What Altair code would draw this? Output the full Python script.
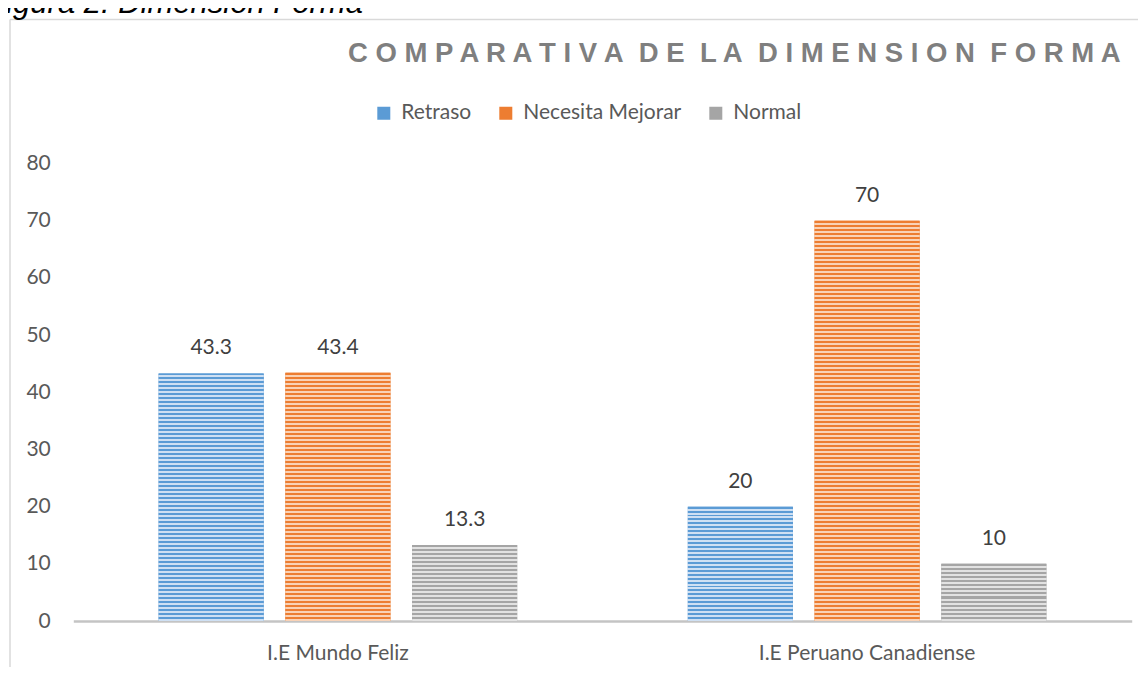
import altair as alt
import pandas as pd

# ---- data ----
categorias = ["I.E Mundo Feliz", "I.E Peruano Canadiense"]
series = ["Retraso", "Necesita Mejorar", "Normal"]
retraso = [43.3, 20]
necesita_mejorar = [43.4, 70]
normal = [13.3, 10]
y_ticks = [0, 10, 20, 30, 40, 50, 60, 70, 80]
titulo = "COMPARATIVA DE LA DIMENSION FORMA"
leyenda_figura = "Figura 2: Dimensión Forma"

# ---- styles ----
dark = {"Retraso": "#5B9BD5", "Necesita Mejorar": "#ED7D31", "Normal": "#A5A5A5"}
light = {"Retraso": "#CFE0F3", "Necesita Mejorar": "#F9D2B6", "Normal": "#E2E2E2"}
PLOT_W = 1058.4
PLOT_H = 457.5
Y_MAX = 80
STRIPE = 4.0

rows = []
for i, c in enumerate(categorias):
    for s, vals in zip(series, [retraso, necesita_mejorar, normal]):
        rows.append({"categoria": c, "serie": s, "valor": vals[i]})
df = pd.DataFrame(rows)

x_enc = alt.X("categoria:N", sort=categorias,
              scale=alt.Scale(paddingInner=0.3224, paddingOuter=0.1612),
              axis=alt.Axis(title=None, labelAngle=0, ticks=False, tickSize=0,
                            domainColor="#C4C4C4", domainWidth=2.5,
                            labelFont="Lato", labelFontSize=21, labelColor="#595959",
                            labelPadding=32, labelBaseline="middle", labelLimit=0))
xo_enc = alt.XOffset("serie:N", sort=series,
                     scale=alt.Scale(paddingInner=0.171, paddingOuter=0))
y_enc = alt.Y("valor:Q",
              scale=alt.Scale(domain=[0, Y_MAX], nice=False),
              axis=alt.Axis(title=None, values=y_ticks, domain=False, ticks=False,
                            tickSize=0, grid=False, labelFont="Lato", labelFontSize=21,
                            labelColor="#595959", labelPadding=23))

base = alt.Chart(df)

solid = base.mark_bar().encode(
    x=x_enc, xOffset=xo_enc, y=y_enc,
    color=alt.Color("serie:N", sort=series,
                    scale=alt.Scale(domain=series, range=[dark[s] for s in series]),
                    legend=alt.Legend(title=None, orient="none", direction="horizontal",
                                      columns=3, legendX=300, legendY=-61,
                                      symbolType="square", symbolSize=169,
                                      symbolStrokeWidth=0, labelFont="Lato",
                                      labelFontSize=21, labelColor="#595959",
                                      labelOffset=7, columnPadding=24, padding=0))
)


def stripes(serie, value):
    h = value * PLOT_H / Y_MAX
    n = max(1, int(round(h / STRIPE)))
    stops = []
    for k in range(n):
        a = k / n
        b = (k + 0.5) / n
        c = (k + 1) / n
        stops += [alt.GradientStop(offset=a, color=dark[serie]),
                  alt.GradientStop(offset=b, color=dark[serie]),
                  alt.GradientStop(offset=b, color=light[serie]),
                  alt.GradientStop(offset=c, color=light[serie])]
    return alt.LinearGradient(gradient="linear", x1=0, x2=0, y1=0, y2=1, stops=stops)


striped_layers = []
for _, r in df.iterrows():
    striped_layers.append(
        base.transform_filter(
            (alt.datum.categoria == r["categoria"]) & (alt.datum.serie == r["serie"])
        ).mark_bar(fill=stripes(r["serie"], r["valor"])).encode(
            x=x_enc, xOffset=xo_enc, y=y_enc)
    )

labels = base.mark_text(dy=-25, baseline="middle", font="Lato", fontSize=21,
                        color="#404040").encode(
    x=x_enc, xOffset=xo_enc, y=y_enc, text=alt.Text("valor:Q"))

# spaced-out title: one space between letters, a wider (non-collapsing) gap between words
spaced_title = "\u00a0 ".join(" ".join(word) for word in titulo.split(" "))
title_df = pd.DataFrame({"t": [spaced_title]})
title_mark = alt.Chart(title_df).mark_text(
    font="Liberation Sans", fontWeight="bold", fontSize=27.5, color="#7F7F7F",
    align="center", baseline="middle").encode(
    x=alt.value(661), y=alt.value(-110), text="t:N")

cap_df = pd.DataFrame({"t": [leyenda_figura]})
caption = alt.Chart(cap_df).mark_text(
    font="Liberation Sans", fontStyle="italic", fontSize=31, color="#000000",
    align="left", baseline="alphabetic").encode(
    x=alt.value(-86), y=alt.value(-150.5), text="t:N")

frame_top = alt.Chart(cap_df).mark_rule(color="#D9D9D9", strokeWidth=1.5).encode(
    x=alt.value(-63.3), x2=alt.value(1080), y=alt.value(-144))
frame_left = alt.Chart(cap_df).mark_rule(color="#D9D9D9", strokeWidth=1.5).encode(
    x=alt.value(-63.3), y=alt.value(-144), y2=alt.value(520))

chart = alt.layer(frame_top, frame_left, caption, title_mark, solid, *striped_layers,
                  labels).properties(
    width=PLOT_W, height=PLOT_H,
    autosize=alt.AutoSizeParams(type="none"),
    padding={"left": 65.3, "top": 155.5, "right": 6.3, "bottom": 46},
).configure_view(stroke=None)

chart.save("out.html", embed_options={"renderer": "svg", "actions": False})
